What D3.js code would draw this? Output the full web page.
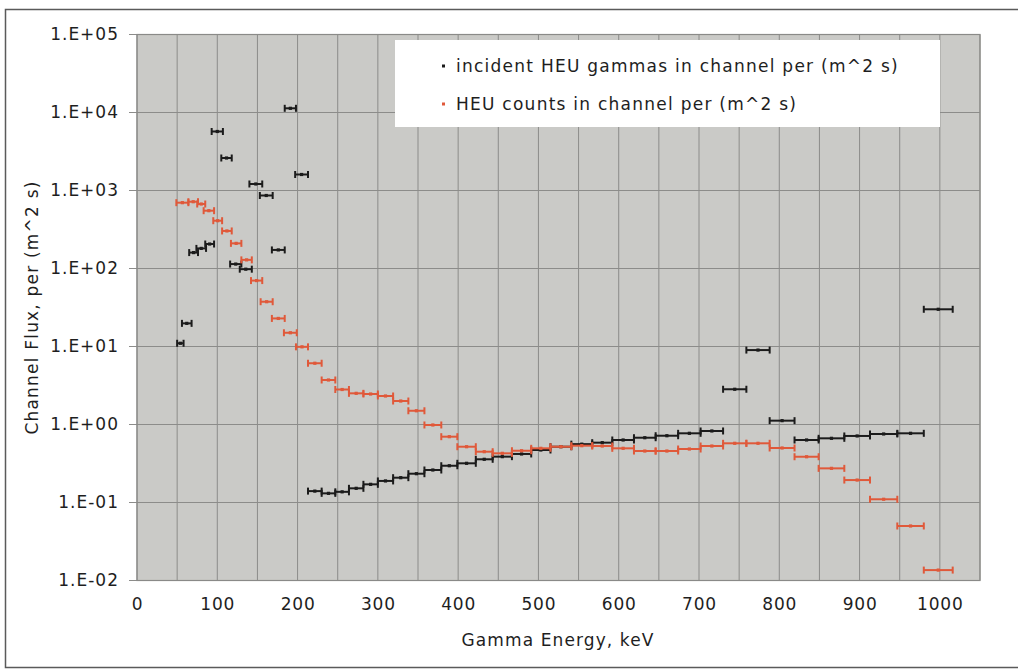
<!DOCTYPE html>
<html>
<head>
<meta charset="utf-8">
<script src="https://cdn.jsdelivr.net/npm/d3@7/dist/d3.min.js"></script>
<style>
  html, body { margin: 0; padding: 0; background: #ffffff; }
  svg { display: block; }
  text { font-family: "DejaVu Sans", Verdana, sans-serif; fill: #1e1e1e; }
</style>
</head>
<body>
<svg id="chart" width="1018" height="670"></svg>
<script>
// Channel bins (keV) and flux per channel, per (m^2 s)
const gammaLo = [50, 56, 65, 74, 85, 93, 105, 116, 128, 140, 153, 168, 184, 197,
  213, 230, 247, 264, 282, 300, 319, 338, 358, 379, 399, 422, 443, 467, 491, 515,
  541, 567, 592, 619, 646, 674, 702, 730, 759, 788, 819, 849, 881, 913, 947, 980];
const gammaHi = [58, 68, 76, 86, 96, 107, 118, 130, 143, 156, 169, 184, 198, 213,
  230, 247, 264, 282, 300, 319, 338, 358, 379, 399, 422, 443, 467, 491, 515, 541,
  567, 592, 619, 646, 674, 702, 730, 759, 788, 819, 849, 881, 913, 947, 980, 1016];
const gammaFlux = [11.0, 19.8, 160, 181, 206, 5710, 2610, 114, 98, 1212, 863, 173, 11320, 1604,
  0.140, 0.131, 0.137, 0.152, 0.171, 0.189, 0.208, 0.234, 0.261, 0.296, 0.318, 0.358,
  0.387, 0.419, 0.471, 0.519, 0.56, 0.585, 0.633, 0.677, 0.718, 0.771, 0.826, 2.83,
  9.0, 1.12, 0.633, 0.665, 0.713, 0.756, 0.771, 30];

const countLo = [49, 64, 75, 83, 95, 106, 117, 130, 142, 154, 168, 183, 198,
  213, 230, 247, 264, 282, 300, 319, 338, 358, 379, 399, 422, 443, 467, 491, 515,
  541, 567, 592, 619, 646, 674, 702, 730, 759, 788, 819, 849, 881, 913, 947, 980];
const countHi = [64, 76, 85, 96, 106, 118, 130, 143, 156, 169, 184, 199, 213,
  230, 247, 264, 282, 300, 319, 338, 358, 379, 399, 422, 443, 467, 491, 515, 541,
  567, 592, 619, 646, 674, 702, 730, 759, 788, 819, 849, 881, 913, 947, 980, 1016];
const countFlux = [698, 718, 671, 551, 410, 303, 210, 129, 70, 37.5, 22.9, 15.0, 9.9,
  6.1, 3.72, 2.81, 2.51, 2.46, 2.32, 2.00, 1.50, 0.986, 0.698, 0.519, 0.448, 0.427,
  0.461, 0.495, 0.519, 0.535, 0.530, 0.495, 0.457, 0.457, 0.485, 0.530, 0.574, 0.574,
  0.500, 0.386, 0.274, 0.194, 0.110, 0.050, 0.0136];

const xTicks = [0, 100, 200, 300, 400, 500, 600, 700, 800, 900, 1000];
const xGrid = d3.range(0, 1051, 50);
const yTicks = [1e-2, 1e-1, 1e0, 1e1, 1e2, 1e3, 1e4, 1e5];

const seriesNames = ["incident HEU gammas in channel per (m^2 s)", "HEU counts in channel per (m^2 s)"];
const seriesColors = ["#1b1b1b", "#e0593a"];

const svg = d3.select("#chart");
const plot = { left: 137, right: 980, top: 34.5, bottom: 580.5 };

const x = d3.scaleLinear().domain([0, 1050]).range([plot.left, plot.right]);
const y = d3.scaleLog().domain([1e-2, 1e5]).range([plot.bottom, plot.top]);

// outer frame
svg.append("rect")
  .attr("x", 5.5).attr("y", 9.5).attr("width", 1030).attr("height", 658)
  .attr("fill", "#ffffff").attr("stroke", "#5a5a5a").attr("stroke-width", 1.5);

// plot background
svg.append("rect")
  .attr("x", plot.left).attr("y", plot.top)
  .attr("width", plot.right - plot.left).attr("height", plot.bottom - plot.top)
  .attr("fill", "#cacac7");

// grid
const grid = svg.append("g");
grid.selectAll("line.v").data(xGrid).join("line")
  .attr("x1", d => x(d)).attr("x2", d => x(d))
  .attr("y1", plot.top).attr("y2", plot.bottom)
  .attr("stroke", "#8c8c8a").attr("stroke-width", 1);
grid.selectAll("line.h").data(yTicks).join("line")
  .attr("x1", plot.left - 8).attr("x2", plot.right)
  .attr("y1", d => y(d)).attr("y2", d => y(d))
  .attr("stroke", "#8c8c8a").attr("stroke-width", 1.2);

svg.append("rect")
  .attr("x", plot.left).attr("y", plot.top)
  .attr("width", plot.right - plot.left).attr("height", plot.bottom - plot.top)
  .attr("fill", "none").attr("stroke", "#8a8a88").attr("stroke-width", 1.2);

// axes labels
const fmtY = v => {
  const e = Math.round(Math.log10(v));
  return "1.E" + (e < 0 ? "-" : "+") + String(Math.abs(e)).padStart(2, "0");
};
const yAxis = d3.axisLeft(y).tickValues(yTicks).tickFormat(fmtY).tickSize(0).tickPadding(18);
const gy = svg.append("g").attr("transform", `translate(${plot.left},0)`).call(yAxis);
gy.select(".domain").remove();
gy.selectAll("text").style("font-size", "17px").attr("fill", "#1e1e1e").attr("letter-spacing", "1px");

const xAxis = d3.axisBottom(x).tickValues(xTicks).tickFormat(d3.format("d")).tickSize(0).tickPadding(17);
const gx = svg.append("g").attr("transform", `translate(0,${plot.bottom})`).call(xAxis);
gx.select(".domain").remove();
gx.selectAll("text").style("font-size", "17px").attr("fill", "#1e1e1e").attr("letter-spacing", "0.8px");

svg.append("text")
  .attr("x", 558).attr("y", 646)
  .attr("text-anchor", "middle").style("font-size", "17px").attr("letter-spacing", "1.1px")
  .text("Gamma Energy, keV");

svg.append("text")
  .attr("transform", `translate(38,${(plot.top + plot.bottom) / 2}) rotate(-90)`)
  .attr("text-anchor", "middle").style("font-size", "17px").attr("letter-spacing", "1.2px")
  .text("Channel Flux, per (m^2 s)");

// series drawn as horizontal bin bars with end caps and a centre marker
function drawSeries(lo, hi, flux, color) {
  const rows = flux.map((v, i) => ({ lo: lo[i], hi: hi[i], v }));
  const g = svg.append("g").attr("stroke", color).attr("fill", color);
  const cap = 3.5;
  const item = g.selectAll("g").data(rows).join("g");
  item.append("line")
    .attr("x1", d => x(d.lo)).attr("x2", d => x(d.hi))
    .attr("y1", d => y(d.v)).attr("y2", d => y(d.v))
    .attr("stroke-width", 2);
  item.append("line")
    .attr("x1", d => x(d.lo)).attr("x2", d => x(d.lo))
    .attr("y1", d => y(d.v) - cap).attr("y2", d => y(d.v) + cap)
    .attr("stroke-width", 2);
  item.append("line")
    .attr("x1", d => x(d.hi)).attr("x2", d => x(d.hi))
    .attr("y1", d => y(d.v) - cap).attr("y2", d => y(d.v) + cap)
    .attr("stroke-width", 2);
  item.append("rect")
    .attr("x", d => x((d.lo + d.hi) / 2) - 1.6).attr("y", d => y(d.v) - 1.6)
    .attr("width", 3.2).attr("height", 3.2).attr("stroke", "none");
}
drawSeries(gammaLo, gammaHi, gammaFlux, seriesColors[0]);
drawSeries(countLo, countHi, countFlux, seriesColors[1]);

// legend
const legend = svg.append("g");
legend.append("rect")
  .attr("x", 395).attr("y", 40).attr("width", 545).attr("height", 87)
  .attr("fill", "#ffffff");
seriesNames.forEach((name, i) => {
  const cy = 66 + i * 38;
  legend.append("rect")
    .attr("x", 442).attr("y", cy - 1.5).attr("width", 3).attr("height", 3)
    .attr("fill", seriesColors[i]);
  legend.append("text")
    .attr("x", 456).attr("y", cy + 6)
    .style("font-size", "17px").attr("letter-spacing", "1.25px")
    .text(name);
});
</script>
</body>
</html>
